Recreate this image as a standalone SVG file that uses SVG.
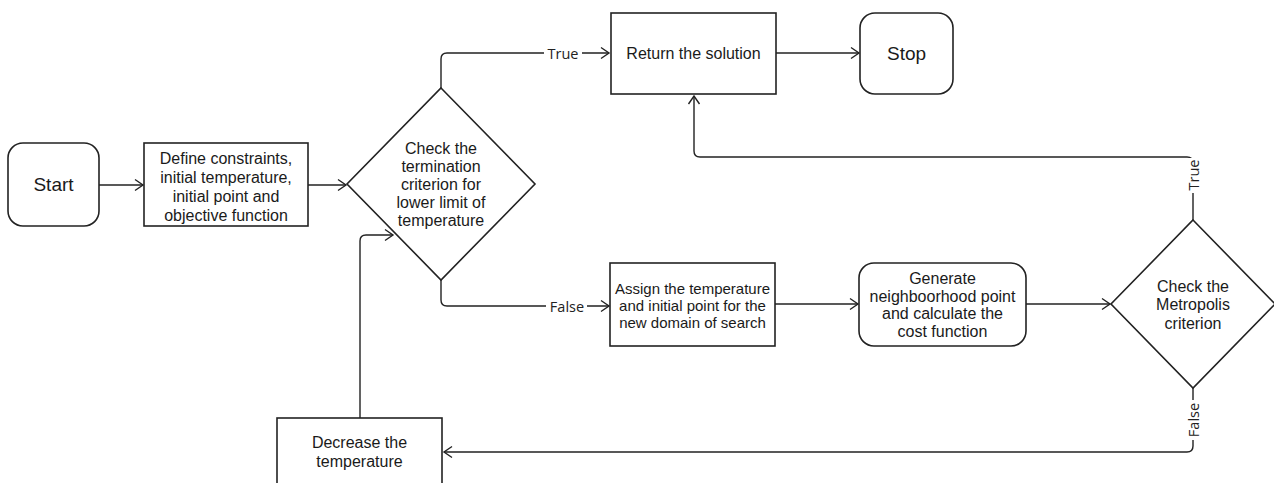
<svg xmlns="http://www.w3.org/2000/svg" width="1274" height="483" viewBox="0 0 1274 483">
  <style>
    .shape { fill: #ffffff; stroke: #222222; stroke-width: 1.6; }
    .edge { fill: none; stroke: #222222; stroke-width: 1.4; }
    .txt { font-family: "Liberation Sans", Arial, sans-serif; font-size: 16px; fill: #1a1a1a; text-anchor: middle; dominant-baseline: central; }
    .big { font-size: 19px; }
    .sm { font-size: 15px; }
    .lbl { font-family: "Open Sans", "Liberation Sans", sans-serif; font-size: 14.5px; fill: #222222; text-anchor: middle; dominant-baseline: central; }
    .lblbg { fill: #ffffff; }
  </style>
  <defs>
    <marker id="open" markerUnits="userSpaceOnUse" markerWidth="12" markerHeight="14" viewBox="-10 -7 12 14" refX="0" refY="0" orient="auto">
      <path d="M-8,-5.5 L0,0 L-8,5.5" fill="none" stroke="#222222" stroke-width="1.4"/>
    </marker>
  </defs>

  <rect width="1274" height="483" fill="#ffffff"/>

  <!-- connectors -->
  <g id="connectors">
    <path class="edge" d="M99,185 L143,185" marker-end="url(#open)"/>
    <path class="edge" d="M308,185 L346,185" marker-end="url(#open)"/>
    <path class="edge" d="M441,88 L441,59 Q441,53 447,53 L609,53" marker-end="url(#open)"/>
    <path class="edge" d="M776,53 L859,53" marker-end="url(#open)"/>
    <path class="edge" d="M441,280 L441,300 Q441,306 447,306 L609,306" marker-end="url(#open)"/>
    <path class="edge" d="M775,304 L858,304" marker-end="url(#open)"/>
    <path class="edge" d="M1026,304 L1110,304" marker-end="url(#open)"/>
    <path class="edge" d="M1193,220 L1193,163 Q1193,157 1187,157 L700,157 Q694,157 694,151 L694,96" marker-end="url(#open)"/>
    <path class="edge" d="M1193,388 L1193,446 Q1193,452 1187,452 L444,452" marker-end="url(#open)"/>
    <path class="edge" d="M360,418 L360,241 Q360,235 366,235 L393,235" marker-end="url(#open)"/>

    <!-- edge labels -->
    <rect class="lblbg" x="544" y="44" width="38" height="18"/>
    <text class="lbl" x="563" y="53">True</text>
    <rect class="lblbg" x="546" y="297" width="41" height="18"/>
    <text class="lbl" x="567" y="306">False</text>
    <rect class="lblbg" x="1184" y="158" width="18" height="35"/>
    <text class="lbl" transform="translate(1193,175) rotate(-90)">True</text>
    <rect class="lblbg" x="1184" y="400" width="18" height="40"/>
    <text class="lbl" transform="translate(1193,420) rotate(-90)">False</text>
  </g>

  <g id="start">
    <rect class="shape" x="8" y="143" width="91" height="83" rx="15"/>
    <text class="txt big" x="53.5" y="184">Start</text>
  </g>

  <g id="define">
    <rect class="shape" x="144" y="143" width="164" height="83"/>
    <text class="txt" x="226" y="158">Define constraints,</text>
    <text class="txt" x="226" y="177">initial temperature,</text>
    <text class="txt" x="226" y="196">initial point and</text>
    <text class="txt" x="226" y="215">objective function</text>
  </g>

  <g id="termination">
    <polygon class="shape" points="441,88 535,184 441,280 347,184"/>
    <text class="txt" x="441" y="148">Check the</text>
    <text class="txt" x="441" y="166">termination</text>
    <text class="txt" x="441" y="184">criterion for</text>
    <text class="txt" x="441" y="202">lower limit of</text>
    <text class="txt" x="441" y="220">temperature</text>
  </g>

  <g id="return">
    <rect class="shape" x="611" y="13" width="165" height="81"/>
    <text class="txt" x="693.5" y="53">Return the solution</text>
  </g>

  <g id="stop">
    <rect class="shape" x="860" y="13" width="93" height="81" rx="15"/>
    <text class="txt big" x="906.5" y="53">Stop</text>
  </g>

  <g id="assign">
    <rect class="shape" x="610" y="263" width="165" height="83"/>
    <text class="txt sm" x="692.5" y="288">Assign the temperature</text>
    <text class="txt sm" x="692.5" y="305">and initial point for the</text>
    <text class="txt sm" x="692.5" y="322">new domain of search</text>
  </g>

  <g id="generate">
    <rect class="shape" x="859" y="263" width="167" height="83" rx="15"/>
    <text class="txt" x="942.5" y="278">Generate</text>
    <text class="txt" x="942.5" y="296">neighboorhood point</text>
    <text class="txt" x="942.5" y="313">and calculate the</text>
    <text class="txt" x="942.5" y="331">cost function</text>
  </g>

  <g id="metropolis">
    <polygon class="shape" points="1193,220 1275,304 1193,388 1111,304"/>
    <text class="txt" x="1193" y="286">Check the</text>
    <text class="txt" x="1193" y="304">Metropolis</text>
    <text class="txt" x="1193" y="323">criterion</text>
  </g>

  <g id="decrease">
    <rect class="shape" x="277" y="418" width="165" height="90"/>
    <text class="txt" x="359.5" y="442">Decrease the</text>
    <text class="txt" x="359.5" y="461">temperature</text>
  </g>
</svg>
